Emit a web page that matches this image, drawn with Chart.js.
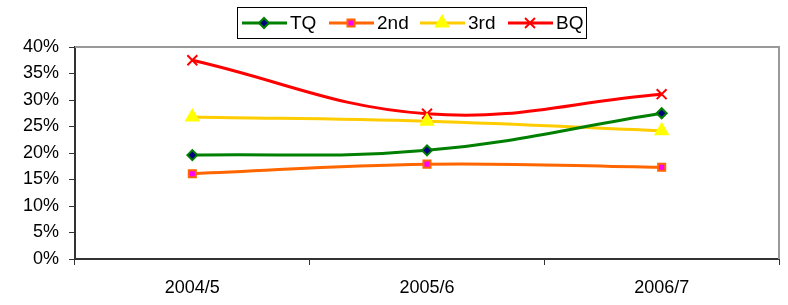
<!DOCTYPE html>
<html>
<head>
<meta charset="utf-8">
<script src="https://cdn.jsdelivr.net/npm/chart.js@4/dist/chart.umd.min.js"></script>
<style>
  html, body { margin: 0; padding: 0; background: #fff; }
  #wrap { width: 788px; height: 305px; }
</style>
</head>
<body>
<div id="wrap"><canvas id="quartileChart"></canvas></div>
<script>
var years = ['2004/5', '2005/6', '2006/7'];
var tqValues = [19.6, 20.5, 27.5];
var secondValues = [16.1, 17.9, 17.3];
var thirdValues = [26.8, 26.0, 24.2];
var bqValues = [37.5, 27.4, 31.1];
var yTicks = [0, 5, 10, 15, 20, 25, 30, 35, 40];

var fontFamily = '"Liberation Sans", Arial, sans-serif';

// border box round the plot area and a boxed legend with line + marker samples
var frameAndLegend = {
    id: 'frameAndLegend',
    beforeDatasetsDraw: function (chart) {
        var c = chart.ctx, a = chart.chartArea;
        c.save();
        c.strokeStyle = '#999999';
        c.lineWidth = 2;
        c.beginPath();
        c.moveTo(a.left, a.top);
        c.lineTo(a.right, a.top);
        c.lineTo(a.right, a.bottom);
        c.stroke();
        c.restore();
    },
    afterDraw: function (chart) {
        var c = chart.ctx;
        c.save();
        c.fillStyle = '#fff';
        c.fillRect(238, 7, 349, 31);
        c.strokeStyle = '#000';
        c.lineWidth = 1;
        c.strokeRect(237.5, 7.5, 349, 31);
        c.font = '19px ' + fontFamily;
        c.textBaseline = 'middle';
        var starts = [242, 329, 420, 508];
        chart.data.datasets.forEach(function (ds, i) {
            var x = starts[i], y = 23;
            c.strokeStyle = ds.borderColor;
            c.lineWidth = 3;
            c.beginPath();
            c.moveTo(x, y);
            c.lineTo(x + 45, y);
            c.stroke();
            c.fillStyle = ds.pointBackgroundColor;
            c.strokeStyle = ds.pointBorderColor;
            c.lineWidth = ds.pointBorderWidth;
            Chart.helpers.drawPoint(c, {
                pointStyle: ds.pointStyle,
                radius: ds.pointRadius,
                borderWidth: ds.pointBorderWidth,
                rotation: 0
            }, x + 22, y);
            c.fillStyle = '#000';
            c.fillText(ds.label, x + 48, y + 1);
        });
        c.restore();
    }
};

function styleDataset(label, data, line, fill, edge, shape, size) {
    return {
        label: label,
        data: data,
        borderColor: line,
        borderWidth: 3,
        tension: 0.4,
        pointStyle: shape,
        pointRadius: size,
        pointBackgroundColor: fill,
        pointBorderColor: edge,
        pointBorderWidth: 2,
        pointHoverRadius: size
    };
}

var ctx = document.getElementById('quartileChart').getContext('2d');
var mychart = new Chart(ctx, {
    type: 'line',
    data: {
        labels: years,
        datasets: [
            styleDataset('TQ', tqValues, '#008000', '#000080', '#008000', 'rectRot', 5),
            styleDataset('2nd', secondValues, '#FF6600', '#FF00FF', '#FF6600', 'rect', 5),
            styleDataset('3rd', thirdValues, '#FFCC00', '#FFFF00', '#FFFF00', 'triangle', 7),
            styleDataset('BQ', bqValues, '#FF0000', '#FF0000', '#FF0000', 'crossRot', 7)
        ]
    },
    options: {
        responsive: true,
        maintainAspectRatio: false,
        animation: false,
        layout: { padding: { top: 47, right: 4, left: 0, bottom: 0 } },
        plugins: { legend: { display: false }, tooltip: { enabled: false } },
        scales: {
            x: {
                offset: true,
                grid: { offset: true, drawOnChartArea: false, drawTicks: true, tickLength: 6, color: '#333', lineWidth: 1 },
                border: { color: '#333', width: 2 },
                ticks: { color: '#000', padding: 12, font: { family: fontFamily, size: 18 } },
                afterFit: function (s) { s.height = 46; }
            },
            y: {
                min: 0,
                max: 40,
                afterBuildTicks: function (s) { s.ticks = yTicks.map(function (v) { return { value: v }; }); },
                grid: { drawOnChartArea: false, drawTicks: true, tickLength: 6, color: '#333', lineWidth: 1 },
                border: { color: '#333', width: 2 },
                ticks: {
                    color: '#000',
                    padding: 10,
                    font: { family: fontFamily, size: 18 },
                    callback: function (value) { return value + '%'; }
                },
                afterFit: function (s) { s.width = 75; }
            }
        }
    },
    plugins: [frameAndLegend]
});
</script>
</body>
</html>
